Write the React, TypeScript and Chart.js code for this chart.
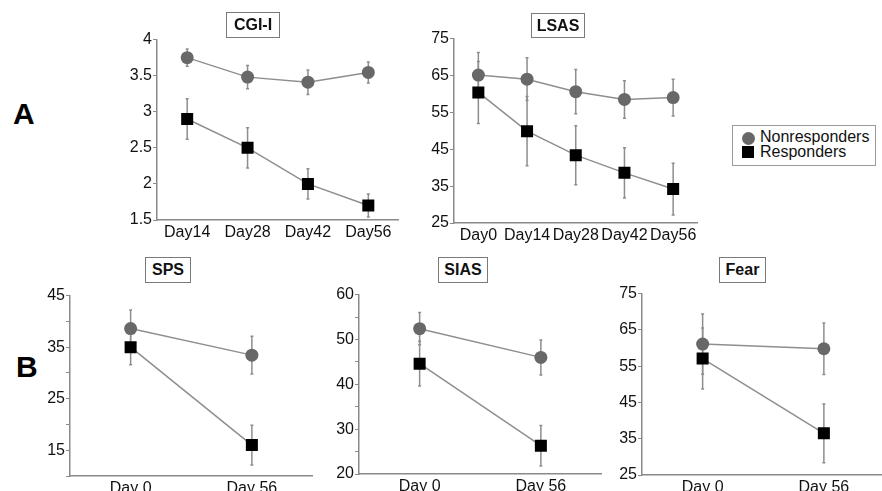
import React, { useEffect, useRef } from "react";
import { Chart, registerables } from "chart.js";

Chart.register(...registerables);

// ---------- DATA ----------
const cgiLabels = ["Day14", "Day28", "Day42", "Day56"];
const cgiNon = [3.75, 3.48, 3.41, 3.545];
const cgiNonErr = [0.12, 0.16, 0.17, 0.145];
const cgiResp = [2.9, 2.5, 2.0, 1.7];
const cgiRespErr = [0.28, 0.28, 0.21, 0.16];

const lsasLabels = ["Day0", "Day14", "Day28", "Day42", "Day56"];
const lsasNon = [65.1, 64.0, 60.6, 58.5, 59.0];
const lsasNonErr = [6.1, 5.8, 6.0, 5.1, 5.0];
const lsasResp = [60.4, 49.9, 43.4, 38.6, 34.2];
const lsasRespErr = [8.4, 9.4, 8.0, 6.8, 7.0];

const bLabels = ["Day 0", "Day 56"];
const spsNon = [38.6, 33.45];
const spsNonErr = [3.6, 3.65];
const spsResp = [35.0, 16.0];
const spsRespErr = [3.4, 3.85];

const siasNon = [52.4, 46.0];
const siasNonErr = [3.6, 3.9];
const siasResp = [44.6, 26.3];
const siasRespErr = [5.0, 4.5];

const fearNon = [61.1, 59.8];
const fearNonErr = [8.3, 7.1];
const fearResp = [57.1, 36.5];
const fearRespErr = [8.4, 8.1];

const seriesNames = ["Nonresponders", "Responders"];

// ---------- STYLE ----------
const FONT = '"Liberation Sans", Arial, sans-serif';
const NON_COLOR = "#686868";
const RESP_COLOR = "#000000";
const LINE_COLOR = "#8e8e8e";
const AXIS_COLOR = "#8a8a8a";

const errorBarPlugin = {
  id: "errorBars",
  beforeDatasetsDraw(chart: any) {
    const ctx = chart.ctx;
    const y = chart.scales.y;
    chart.data.datasets.forEach((ds: any, i: number) => {
      const meta = chart.getDatasetMeta(i);
      const errs: number[] = ds.errors || [];
      meta.data.forEach((pt: any, j: number) => {
        const v = ds.data[j];
        const e = errs[j];
        if (e == null) return;
        const top = y.getPixelForValue(v + e);
        const bot = y.getPixelForValue(v - e);
        ctx.save();
        ctx.strokeStyle = LINE_COLOR;
        ctx.lineWidth = 1.5;
        ctx.beginPath();
        ctx.moveTo(pt.x, top);
        ctx.lineTo(pt.x, bot);
        ctx.moveTo(pt.x - 1.5, top);
        ctx.lineTo(pt.x + 1.5, top);
        ctx.moveTo(pt.x - 1.5, bot);
        ctx.lineTo(pt.x + 1.5, bot);
        ctx.stroke();
        ctx.restore();
      });
    });
  },
};

type PanelProps = {
  x0: number;
  x1: number;
  yt: number;
  yb: number;
  labels: string[];
  non: number[];
  nonErr: number[];
  resp: number[];
  respErr: number[];
  min: number;
  max: number;
  step: number;
  labelEvery?: number;
  labelStart?: number;
};

const Y_W = 50;
const X_H = 30;
const PAD_T = 10;
const PAD_R = 6;

function Panel(p: PanelProps) {
  const ref = useRef<HTMLCanvasElement | null>(null);
  const width = p.x1 - p.x0 + Y_W + PAD_R;
  const height = p.yb - p.yt + PAD_T + X_H;
  useEffect(() => {
    if (!ref.current) return;
    const chart = new Chart(ref.current, {
      type: "line",
      data: {
        labels: p.labels,
        datasets: [
          {
            label: seriesNames[1],
            data: p.resp,
            errors: p.respErr,
            borderColor: LINE_COLOR,
            borderWidth: 1.5,
            pointStyle: "rect",
            pointRadius: 8.5,
            pointBackgroundColor: RESP_COLOR,
            pointBorderColor: RESP_COLOR,
            pointBorderWidth: 0,
            tension: 0,
          } as any,
          {
            label: seriesNames[0],
            data: p.non,
            errors: p.nonErr,
            borderColor: LINE_COLOR,
            borderWidth: 1.5,
            pointStyle: "circle",
            pointRadius: 6.5,
            pointBackgroundColor: NON_COLOR,
            pointBorderColor: NON_COLOR,
            pointBorderWidth: 0,
            tension: 0,
          } as any,
        ],
      },
      options: {
        animation: false,
        responsive: false,
        devicePixelRatio: 1,
        layout: { padding: { top: PAD_T, right: PAD_R, left: 0, bottom: 0 } },
        plugins: {
          legend: { display: false },
          tooltip: { enabled: false },
          title: { display: false },
        },
        scales: {
          x: {
            type: "category",
            offset: true,
            grid: { display: false, drawTicks: false },
            border: { display: true, color: AXIS_COLOR, width: 1.5 },
            ticks: {
              color: "#111",
              font: { family: FONT, size: 16 },
              padding: 3,
              maxRotation: 0,
              autoSkip: false,
            },
            afterFit: (s: any) => {
              s.height = X_H;
            },
          },
          y: {
            type: "linear",
            min: p.min,
            max: p.max,
            grid: {
              display: true,
              drawOnChartArea: false,
              drawTicks: true,
              tickLength: 4,
              color: AXIS_COLOR,
              lineWidth: 1,
            },
            border: { display: true, color: AXIS_COLOR, width: 1.5 },
            ticks: {
              stepSize: p.step,
              color: "#111",
              font: { family: FONT, size: 16 },
              padding: 1,
              callback: (val: any) => {
                const v = Number(val);
                if (p.labelEvery) {
                  const k = (v - (p.labelStart as number)) / p.labelEvery;
                  if (Math.abs(k - Math.round(k)) > 1e-6) return "";
                }
                return String(Math.round(v * 100) / 100);
              },
            },
            afterFit: (s: any) => {
              s.width = Y_W;
            },
          },
        },
      } as any,
      plugins: [errorBarPlugin],
    });
    return () => chart.destroy();
  }, []);
  return (
    <canvas
      ref={ref}
      width={width}
      height={height}
      style={{
        position: "absolute",
        left: p.x0 - Y_W,
        top: p.yt - PAD_T,
        width,
        height,
      }}
    />
  );
}

function TitleBox(props: { left: number; top: number; w: number; h: number; text: string }) {
  return (
    <div
      style={{
        position: "absolute",
        left: props.left,
        top: props.top,
        width: props.w,
        height: props.h,
        boxSizing: "border-box",
        border: "1.5px solid #7a7a7a",
        font: `bold 16px ${FONT}`,
        color: "#111",
        display: "flex",
        alignItems: "center",
        justifyContent: "center",
      }}
    >
      {props.text}
    </div>
  );
}

export default function App() {
  return (
    <div
      style={{
        position: "absolute",
        left: 0,
        top: 0,
        width: 882,
        height: 491,
        overflow: "hidden",
        background: "#fff",
      }}
    >
      <div style={{ position: "absolute", left: 13, top: 97, font: `bold 30px ${FONT}`, color: "#000" }}>A</div>
      <div style={{ position: "absolute", left: 16, top: 350, font: `bold 30px ${FONT}`, color: "#000" }}>B</div>

      <Panel x0={157} x1={401} yt={39} yb={220} labels={cgiLabels} non={cgiNon} nonErr={cgiNonErr}
        resp={cgiResp} respErr={cgiRespErr} min={1.5} max={4} step={0.5} />
      <Panel x0={454} x1={700} yt={38} yb={223} labels={lsasLabels} non={lsasNon} nonErr={lsasNonErr}
        resp={lsasResp} respErr={lsasRespErr} min={25} max={75} step={10} />
      <Panel x0={70} x1={315} yt={295} yb={476} labels={bLabels} non={spsNon} nonErr={spsNonErr}
        resp={spsResp} respErr={spsRespErr} min={10} max={45} step={5} labelEvery={10} labelStart={15} />
      <Panel x0={359} x1={604} yt={294} yb={474} labels={bLabels} non={siasNon} nonErr={siasNonErr}
        resp={siasResp} respErr={siasRespErr} min={20} max={60} step={5} labelEvery={10} labelStart={20} />
      <Panel x0={642} x1={887} yt={293} yb={475} labels={bLabels} non={fearNon} nonErr={fearNonErr}
        resp={fearResp} respErr={fearRespErr} min={25} max={75} step={5} labelEvery={10} labelStart={25} />

      <TitleBox left={226} top={12} w={54} h={26} text="CGI-I" />
      <TitleBox left={531} top={13} w={54} h={25} text="LSAS" />
      <TitleBox left={145} top={257} w={46} h={26} text="SPS" />
      <TitleBox left={438} top={257} w={50} h={26} text="SIAS" />
      <TitleBox left={719} top={257} w={47} h={26} text="Fear" />

      <div
        style={{
          position: "absolute",
          left: 732,
          top: 125,
          width: 144,
          height: 41,
          boxSizing: "border-box",
          border: "1px solid #9a9a9a",
          font: `16px ${FONT}`,
          color: "#111",
        }}
      >
        <div style={{ position: "absolute", left: 8.5, top: 6, width: 13, height: 13, borderRadius: "50%", background: NON_COLOR }} />
        <div style={{ position: "absolute", left: 9, top: 20, width: 12, height: 12, background: RESP_COLOR }} />
        <div style={{ position: "absolute", left: 27, top: 3, lineHeight: "15px", whiteSpace: "nowrap" }}>{seriesNames[0]}</div>
        <div style={{ position: "absolute", left: 27, top: 18, lineHeight: "15px", whiteSpace: "nowrap" }}>{seriesNames[1]}</div>
      </div>
    </div>
  );
}
